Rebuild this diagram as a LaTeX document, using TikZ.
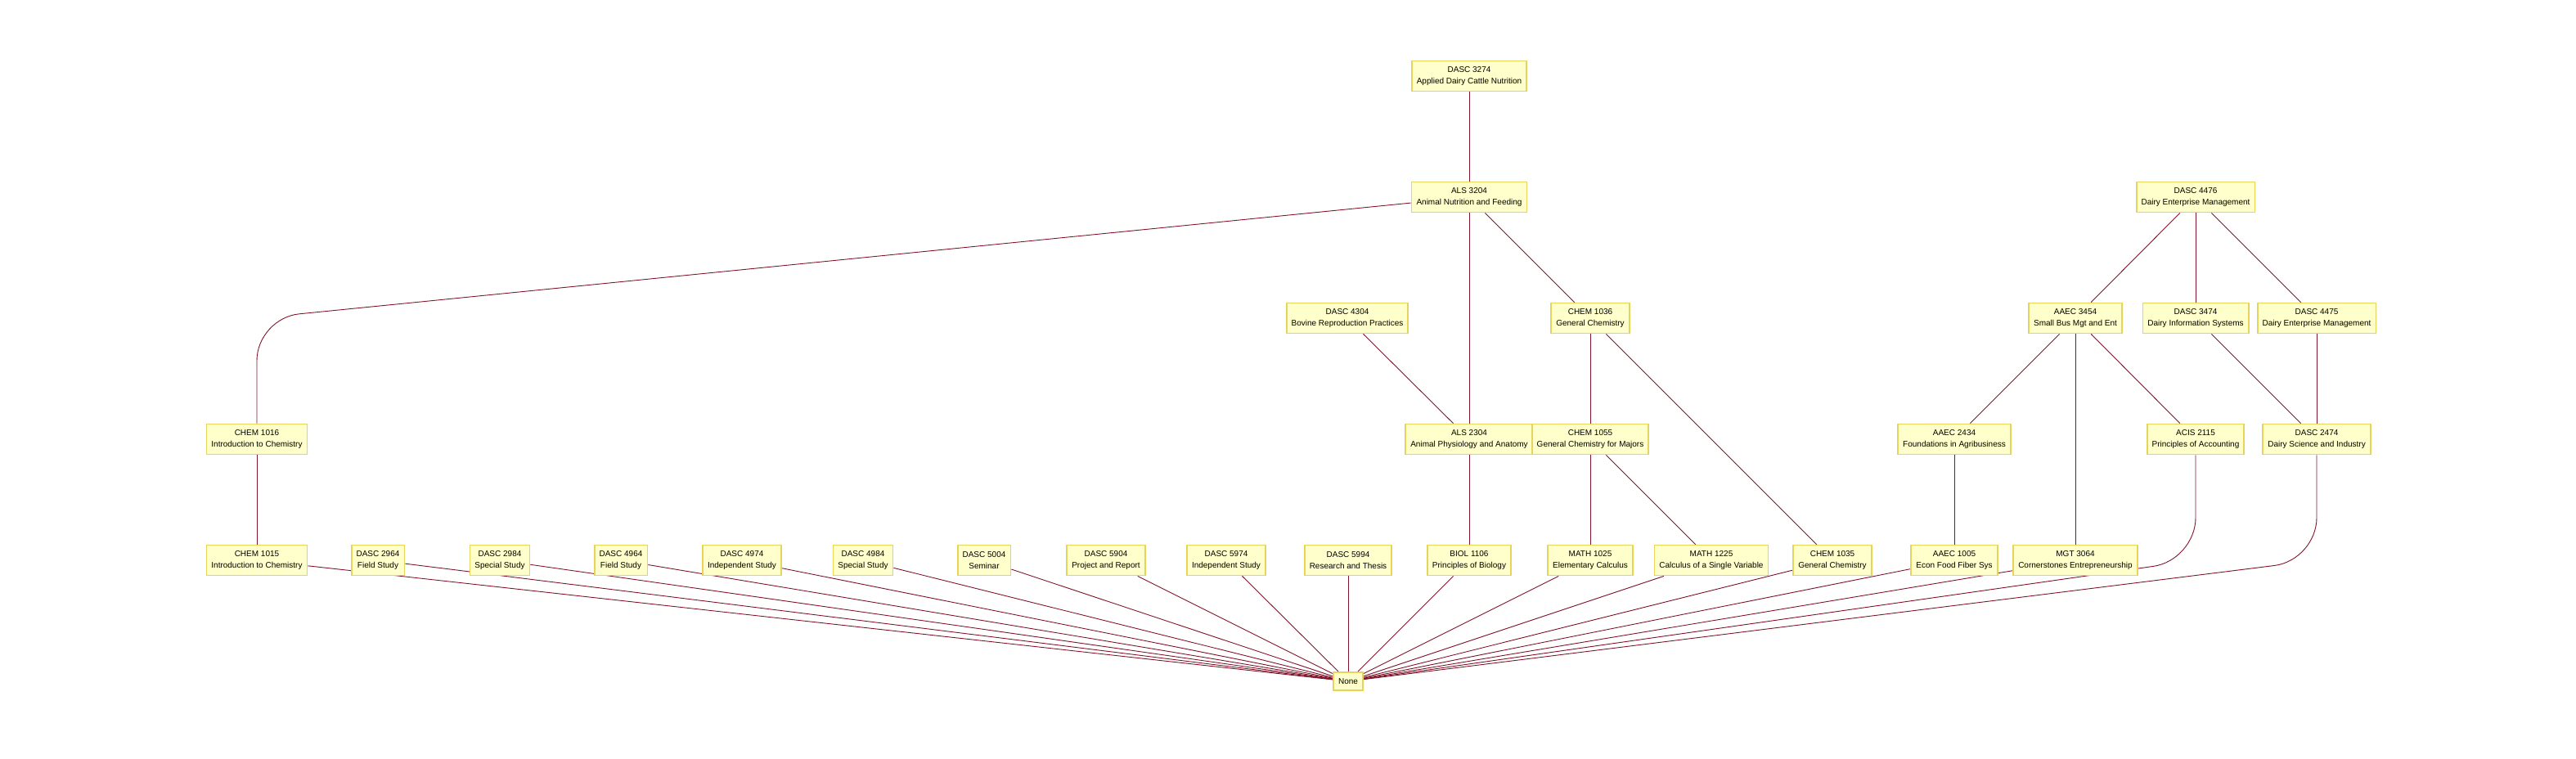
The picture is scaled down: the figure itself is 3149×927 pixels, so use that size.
\documentclass[tikz,border=0pt]{standalone}
\usepackage{fontspec}
\setmainfont{Liberation Sans}
\usetikzlibrary{backgrounds}
\definecolor{coursefill}{RGB}{255,255,204}
\definecolor{courseline}{RGB}{230,212,92}
\definecolor{edgered}{RGB}{128,20,42}
\tikzset{course node/.style={rectangle, draw=courseline, fill=coursefill, line width=1.8pt,
    align=center, inner xsep=6pt, minimum height=37pt, font=\fontsize{10}{14}\selectfont}}
\tikzset{sink node/.style={course node, minimum height=22pt}}
\tikzset{prereq edge/.style={draw=edgered, line width=0.9pt}}
\tikzset{bent edge/.style={prereq edge, rounded corners=52pt}}

\begin{document}
\begin{tikzpicture}
  [x=1pt, y=-1pt]
  \useasboundingbox (0,0) rectangle (3149,927);

  \node [course node] (dasc3274) at (1796,  93) {DASC 3274\\Applied Dairy Cattle Nutrition};

  \node [course node] (als3204)  at (1796, 241) {ALS 3204\\Animal Nutrition and Feeding};
  \node [course node] (dasc4476) at (2684, 241) {DASC 4476\\Dairy Enterprise Management};

  \node [course node] (dasc4304) at (1647, 389) {DASC 4304\\Bovine Reproduction Practices};
  \node [course node] (chem1036) at (1944, 389) {CHEM 1036\\General Chemistry};
  \node [course node] (aaec3454) at (2537, 389) {AAEC 3454\\Small Bus Mgt and Ent};
  \node [course node] (dasc3474) at (2684, 389) {DASC 3474\\Dairy Information Systems};
  \node [course node] (dasc4475) at (2832, 389) {DASC 4475\\Dairy Enterprise Management};

  \node [course node] (chem1016) at ( 314, 537) {CHEM 1016\\Introduction to Chemistry};
  \node [course node] (als2304)  at (1796, 537) {ALS 2304\\Animal Physiology and Anatomy};
  \node [course node] (chem1055) at (1944, 537) {CHEM 1055\\General Chemistry for Majors};
  \node [course node] (aaec2434) at (2389, 537) {AAEC 2434\\Foundations in Agribusiness};
  \node [course node] (acis2115) at (2684, 537) {ACIS 2115\\Principles of Accounting};
  \node [course node] (dasc2474) at (2832, 537) {DASC 2474\\Dairy Science and Industry};

  \node [course node] (chem1015) at ( 314, 685) {CHEM 1015\\Introduction to Chemistry};
  \node [course node] (dasc2964) at ( 462, 685) {DASC 2964\\Field Study};
  \node [course node] (dasc2984) at ( 611, 685) {DASC 2984\\Special Study};
  \node [course node] (dasc4964) at ( 759, 685) {DASC 4964\\Field Study};
  \node [course node] (dasc4974) at ( 907, 685) {DASC 4974\\Independent Study};
  \node [course node] (dasc4984) at (1055, 685) {DASC 4984\\Special Study};
  \node [course node] (dasc5004) at (1203, 685) {DASC 5004\\Seminar};
  \node [course node] (dasc5904) at (1352, 685) {DASC 5904\\Project and Report};
  \node [course node] (dasc5974) at (1499, 685) {DASC 5974\\Independent Study};
  \node [course node] (dasc5994) at (1648, 685) {DASC 5994\\Research and Thesis};
  \node [course node] (biol1106) at (1796, 685) {BIOL 1106\\Principles of Biology};
  \node [course node] (math1025) at (1944, 685) {MATH 1025\\Elementary Calculus};
  \node [course node] (math1225) at (2092, 685) {MATH 1225\\Calculus of a Single Variable};
  \node [course node] (chem1035) at (2240, 685) {CHEM 1035\\General Chemistry};
  \node [course node] (aaec1005) at (2389, 685) {AAEC 1005\\Econ Food Fiber Sys};
  \node [course node] (mgt3064)  at (2537, 685) {MGT 3064\\Cornerstones Entrepreneurship};

  \node [sink node]   (none)     at (1648, 833) {None};

  \coordinate (bendchem) at ( 314, 389);
  \coordinate (bendacis) at (2684, 685);
  \coordinate (benddasc) at (2832, 685);

  \begin{scope}[on background layer]
    \draw [prereq edge] (dasc3274) to (als3204);
    \draw [bent edge]   (als3204)  -- (bendchem) -- (chem1016);
    \draw [prereq edge] (als3204)  to (als2304);
    \draw [prereq edge] (als3204)  to (chem1036);
    \draw [prereq edge] (dasc4304) to (als2304);
    \draw [prereq edge] (chem1036) to (chem1055);
    \draw [prereq edge] (chem1036) to (chem1035);
    \draw [prereq edge] (chem1055) to (math1025);
    \draw [prereq edge] (chem1055) to (math1225);
    \draw [prereq edge] (als2304)  to (biol1106);
    \draw [prereq edge] (chem1016) to (chem1015);

    \draw [prereq edge] (dasc4476) to (aaec3454);
    \draw [prereq edge] (dasc4476) to (dasc3474);
    \draw [prereq edge] (dasc4476) to (dasc4475);
    \draw [prereq edge] (aaec3454) to (aaec2434);
    \draw [prereq edge] (aaec3454) to (mgt3064);
    \draw [prereq edge] (aaec3454) to (acis2115);
    \draw [prereq edge] (dasc3474) to (dasc2474);
    \draw [prereq edge] (dasc4475) to (dasc2474);
    \draw [prereq edge] (aaec2434) to (aaec1005);
    \draw [bent edge]   (acis2115) -- (bendacis) -- (none);
    \draw [bent edge]   (dasc2474) -- (benddasc) -- (none);

    \draw [prereq edge] (chem1015) to (none);
    \draw [prereq edge] (dasc2964) to (none);
    \draw [prereq edge] (dasc2984) to (none);
    \draw [prereq edge] (dasc4964) to (none);
    \draw [prereq edge] (dasc4974) to (none);
    \draw [prereq edge] (dasc4984) to (none);
    \draw [prereq edge] (dasc5004) to (none);
    \draw [prereq edge] (dasc5904) to (none);
    \draw [prereq edge] (dasc5974) to (none);
    \draw [prereq edge] (dasc5994) to (none);
    \draw [prereq edge] (biol1106) to (none);
    \draw [prereq edge] (math1025) to (none);
    \draw [prereq edge] (math1225) to (none);
    \draw [prereq edge] (chem1035) to (none);
    \draw [prereq edge] (aaec1005) to (none);
    \draw [prereq edge] (mgt3064)  to (none);
  \end{scope}
\end{tikzpicture}
\end{document}
